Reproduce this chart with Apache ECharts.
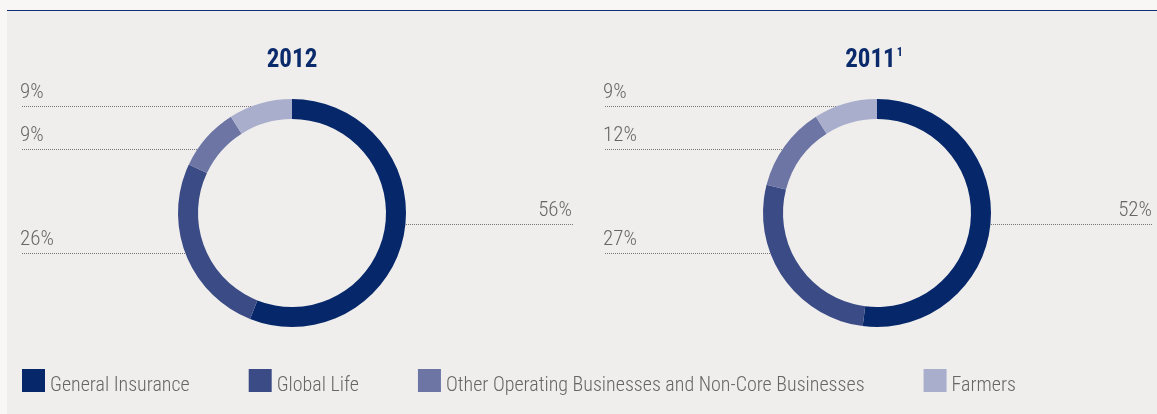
<!DOCTYPE html>
<html>
<head>
<meta charset="utf-8">
<title>Operating profit by business</title>
<script src="https://cdn.jsdelivr.net/npm/echarts@6/dist/echarts.min.js"></script>
<style>
html, body { margin: 0; padding: 0; background: #f8f7f6; overflow: hidden; }
#panel { position: absolute; left: 7px; top: 10px; right: 0; bottom: 0; background: #efeeec; border-top: 1px solid #0d2e73; }
#chartmain { position: absolute; left: 0; top: 0; width: 1157px; height: 414px; }
</style>
</head>
<body>
<div id="panel"></div>
<div id="chartmain"></div>
<script>
var categories = ['General Insurance', 'Global Life', 'Other Operating Businesses and Non-Core Businesses', 'Farmers'];
var years = ['2012', '2011'];
var share2012 = [56, 26, 9, 9];
var share2011 = [52, 27, 12, 9];
var colors = ['#06286b', '#3a4b86', '#6d75a5', '#a9aecd'];

var font = "'Roboto Condensed', 'Open Sans', sans-serif";
var centers = [[292, 213], [877, 213]];
var labelEdges = [[20, 572], [603, 1152]];
// y of the dotted label line for each category (same rows in both charts)
var labelRows = [224, 253, 149, 106];
var lineRadius = 109;

function toData(values) {
	return values.map(function(v, i) {
		return { name: categories[i], value: v, itemStyle: { color: colors[i] } };
	});
}

// label text sits above a flat dotted line that runs out to the edge
function layoutLabel(params) {
	var pts = params.labelLinePoints;
	if (!pts) {
		return {};
	}
	var c = centers[params.seriesIndex];
	var edge = labelEdges[params.seriesIndex];
	var right = pts[0][0] > c[0];
	var y = labelRows[params.dataIndex] + 0.5;
	var dy = y - c[1];
	var dx = Math.sqrt(Math.max(lineRadius * lineRadius - dy * dy, 0));
	var sx = Math.round(right ? c[0] + dx : c[0] - dx);
	var ex = right ? edge[1] + 1 : edge[0] + 2;
	return {
		x : right ? edge[1] : edge[0],
		y : y - 14,
		align : right ? 'right' : 'left',
		verticalAlign : 'middle',
		labelLinePoints : [[sx, y], [ex, y], [ex, y]]
	};
}

function pieSeries(idx, values) {
	return {
		name : years[idx],
		type : 'pie',
		center : centers[idx],
		radius : [94, 114],
		startAngle : 90,
		clockwise : true,
		avoidLabelOverlap : false,
		silent : true,
		itemStyle : { borderWidth : 0 },
		label : {
			show : true,
			formatter : '{c}%',
			fontFamily : font,
			fontWeight : 300,
			fontSize : 21,
			color : '#666666'
		},
		labelLine : {
			show : true,
			length : 8,
			length2 : 8,
			lineStyle : { color : '#777777', width : 1, type : [1, 1] }
		},
		labelLayout : layoutLabel,
		data : toData(values)
	};
}

var option = {
	animation : false,
	color : colors,
	graphic : [ {
		type : 'text',
		x : centers[0][0],
		y : 61,
		style : {
			text : years[0],
			align : 'center',
			verticalAlign : 'middle',
			fontFamily : font,
			fontWeight : 'bold',
			fontSize : 25,
			fill : '#0a2a6b'
		}
	}, {
		type : 'text',
		x : centers[1][0] - 3,
		y : 61,
		style : {
			text : '{a|' + years[1] + '}{b|1}',
			align : 'center',
			verticalAlign : 'middle',
			rich : {
				a : { fontFamily : font, fontWeight : 'bold', fontSize : 25, lineHeight : 28, fill : '#0a2a6b' },
				b : { fontFamily : font, fontWeight : 'bold', fontSize : 12, lineHeight : 12, verticalAlign : 'top', fill : '#0a2a6b', padding : [0, 0, 0, 1] }
			}
		}
	} ],
	legend : {
		data : categories,
		left : 22,
		top : 369,
		padding : 0,
		icon : 'rect',
		itemWidth : 23,
		itemHeight : 23,
		itemGap : 59,
		selectedMode : false,
		formatter : function(name) {
			return '{t|' + name + '}';
		},
		textStyle : {
			fontFamily : font,
			fontWeight : 300,
			fontSize : 20,
			color : '#666666',
			rich : {
				t : {
					fontFamily : font,
					fontWeight : 300,
					fontSize : 20,
					color : '#666666',
					padding : [10, 0, 0, 0]
				}
			}
		}
	},
	series : [ pieSeries(0, share2012), pieSeries(1, share2011) ]
};

var myChart = echarts.init(document.getElementById('chartmain'));
myChart.setOption(option);
</script>
</body>
</html>
